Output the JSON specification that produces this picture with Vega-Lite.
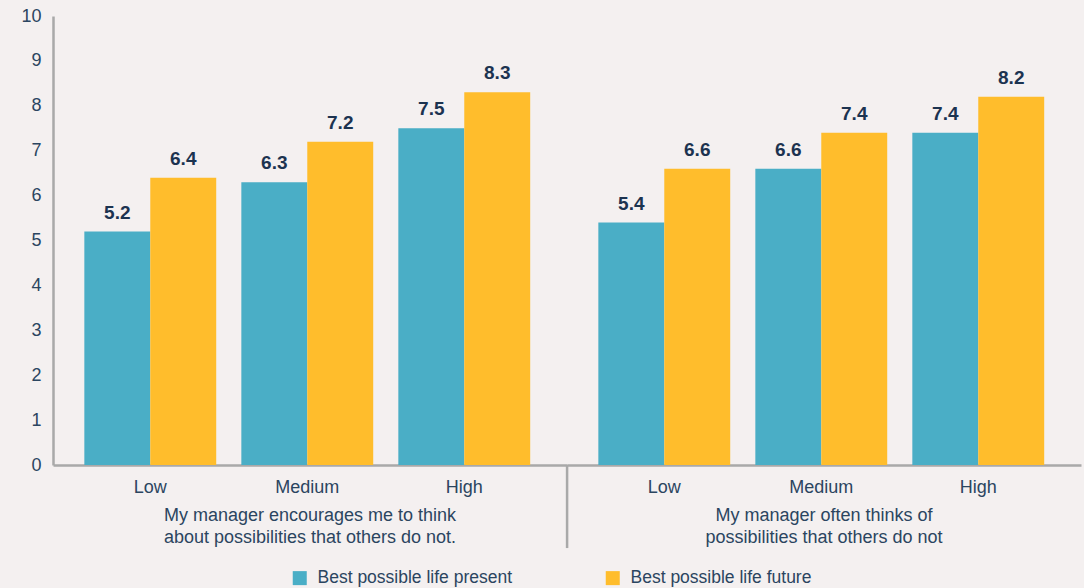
{
  "$schema": "https://vega.github.io/schema/vega-lite/v6.json",
  "background": "#f4f0f0",
  "padding": {"top": 7, "left": 20, "right": 4, "bottom": 2},
  "bounds": "flush",
  "data": {
    "values": [
      {"group": "My manager encourages me to think\nabout possibilities that others do not.", "level": "Low", "series": "Best possible life present", "value": 5.2},
      {"group": "My manager encourages me to think\nabout possibilities that others do not.", "level": "Low", "series": "Best possible life future", "value": 6.4},
      {"group": "My manager encourages me to think\nabout possibilities that others do not.", "level": "Medium", "series": "Best possible life present", "value": 6.3},
      {"group": "My manager encourages me to think\nabout possibilities that others do not.", "level": "Medium", "series": "Best possible life future", "value": 7.2},
      {"group": "My manager encourages me to think\nabout possibilities that others do not.", "level": "High", "series": "Best possible life present", "value": 7.5},
      {"group": "My manager encourages me to think\nabout possibilities that others do not.", "level": "High", "series": "Best possible life future", "value": 8.3},
      {"group": "My manager often thinks of\npossibilities that others do not", "level": "Low", "series": "Best possible life present", "value": 5.4},
      {"group": "My manager often thinks of\npossibilities that others do not", "level": "Low", "series": "Best possible life future", "value": 6.6},
      {"group": "My manager often thinks of\npossibilities that others do not", "level": "Medium", "series": "Best possible life present", "value": 6.6},
      {"group": "My manager often thinks of\npossibilities that others do not", "level": "Medium", "series": "Best possible life future", "value": 7.4},
      {"group": "My manager often thinks of\npossibilities that others do not", "level": "High", "series": "Best possible life present", "value": 7.4},
      {"group": "My manager often thinks of\npossibilities that others do not", "level": "High", "series": "Best possible life future", "value": 8.2}
    ]
  },
  "facet": {
    "column": {
      "field": "group",
      "type": "nominal",
      "sort": ["My manager encourages me to think\nabout possibilities that others do not.", "My manager often thinks of\npossibilities that others do not"],
      "header": {
        "title": null,
        "labelOrient": "bottom",
        "labelExpr": "split(datum.value, '\\n')",
        "labelFont": "Liberation Sans",
        "labelFontSize": 18,
        "labelColor": "#2b4560",
        "labelLineHeight": 22,
        "labelPadding": 11
      }
    }
  },
  "spacing": 0,
  "spec": {
    "width": 514,
    "height": 449,
    "layer": [
      {
        "mark": {"type": "bar"},
        "encoding": {
          "x": {
            "field": "level", "type": "nominal",
            "sort": ["Low", "Medium", "High"],
            "scale": {"paddingInner": 0.16, "paddingOuter": 0.217, "align": 0.46},
            "axis": {"title": null, "labelAngle": 0, "ticks": false, "labelPadding": 13, "domainColor": "#a9a9a9", "domainWidth": 2.5}
          },
          "xOffset": {
            "field": "series", "type": "nominal",
            "sort": ["Best possible life present", "Best possible life future"],
            "scale": {"paddingInner": 0, "paddingOuter": 0}
          },
          "y": {
            "field": "value", "type": "quantitative",
            "scale": {"domain": [0, 10], "nice": false},
            "axis": {"title": null, "values": [0,1,2,3,4,5,6,7,8,9,10], "grid": false, "ticks": false, "labelPadding": 12, "domainColor": "#a9a9a9", "domainWidth": 2.5}
          },
          "color": {
            "field": "series", "type": "nominal",
            "sort": ["Best possible life present", "Best possible life future"],
            "scale": {"domain": ["Best possible life present", "Best possible life future"], "range": ["#4aaec6", "#ffbd2c"]},
            "legend": {
              "title": null,
              "orient": "none",
              "legendX": 238,
              "legendY": 553,
              "direction": "horizontal",
              "padding": 0,
              "symbolType": "square",
              "symbolSize": 196,
              "symbolStrokeWidth": 0,
              "labelFont": "Liberation Sans",
              "labelFontSize": 17.5,
              "labelColor": "#2b4560",
              "labelOffset": 9,
              "columnPadding": 91,
              "labelLimit": 400
            }
          }
        }
      },
      {
        "mark": {"type": "text", "font": "Liberation Sans", "fontWeight": "bold", "fontSize": 19, "color": "#1c3350", "dy": -13, "baseline": "alphabetic"},
        "encoding": {
          "x": {"field": "level", "type": "nominal", "sort": ["Low", "Medium", "High"]},
          "xOffset": {"field": "series", "type": "nominal", "sort": ["Best possible life present", "Best possible life future"]},
          "y": {"field": "value", "type": "quantitative", "scale": {"domain": [0, 10], "nice": false}},
          "text": {"field": "value", "type": "quantitative", "format": ".1f"}
        }
      },
      {
        "transform": [
          {"filter": "datum.group === 'My manager often thinks of\\npossibilities that others do not' && datum.level === 'Low' && datum.series === 'Best possible life present'"}
        ],
        "mark": {"type": "rule", "color": "#a9a9a9", "strokeWidth": 2.5},
        "encoding": {
          "x": {"field": "level", "type": "nominal", "sort": ["Low", "Medium", "High"], "bandPosition": -0.237},
          "y": {"datum": 0, "scale": {"domain": [0, 10], "nice": false}},
          "y2": {"datum": -1.85}
        }
      }
    ]
  },
  "config": {
    "view": {"stroke": null},
    "font": "Liberation Sans",
    "axis": {"labelFont": "Liberation Sans", "labelFontSize": 18, "labelColor": "#2b4560"}
  }
}
